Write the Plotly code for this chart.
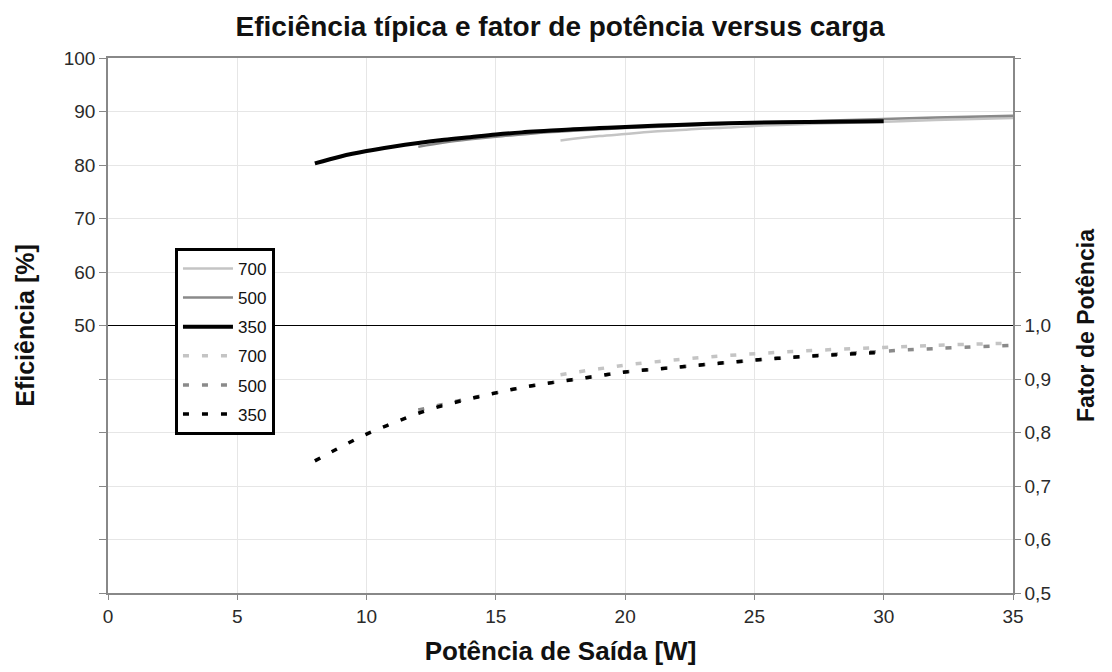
import plotly.graph_objects as go

# Efficiency curves [%]
x_350 = [8, 9, 10, 11, 12, 13, 14, 15, 16, 17, 18, 19, 20, 22, 24, 26, 28, 30]
eff_350 = [80.3, 81.6, 82.6, 83.4, 84.1, 84.7, 85.2, 85.7, 86.1, 86.4, 86.7, 86.9, 87.1, 87.5, 87.8, 88.0, 88.1, 88.2]

x_500 = [12, 13, 14, 15, 16, 17, 18, 20, 22, 24, 26, 28, 30, 32, 35]
eff_500 = [83.4, 84.2, 84.8, 85.3, 85.7, 86.1, 86.4, 86.9, 87.3, 87.7, 88.0, 88.3, 88.6, 88.9, 89.2]

x_700 = [17.5, 18, 19, 20, 21, 22, 23, 24, 25, 26, 28, 30, 32, 35]
eff_700 = [84.6, 84.9, 85.4, 85.8, 86.2, 86.5, 86.8, 87.0, 87.3, 87.5, 87.8, 88.1, 88.4, 88.8]

# Power factor curves
pf_x_350 = [8, 9, 10, 11, 12, 13, 14, 15, 16, 17, 18, 19, 20, 22, 24, 26, 28, 30]
pf_350 = [0.747, 0.773, 0.797, 0.817, 0.836, 0.851, 0.863, 0.874, 0.884, 0.892, 0.899, 0.906, 0.913, 0.922, 0.931, 0.939, 0.945, 0.950]

pf_x_500 = [12, 13, 14, 15, 16, 17, 18, 19, 20, 22, 24, 26, 28, 30, 32, 35]
pf_500 = [0.842, 0.853, 0.864, 0.874, 0.884, 0.892, 0.899, 0.906, 0.913, 0.922, 0.931, 0.939, 0.946, 0.952, 0.957, 0.963]

pf_x_700 = [17.5, 18, 19, 20, 22, 24, 26, 28, 30, 32, 35]
pf_700 = [0.908, 0.912, 0.919, 0.926, 0.936, 0.944, 0.950, 0.955, 0.959, 0.963, 0.967]

# Separator line between the two scales (efficiency 50 % / PF 1,0)
sep_x = [0, 35]
sep_y = [50, 50]

left_ticks = [0, 10, 20, 30, 40, 50, 60, 70, 80, 90, 100]
left_labels = ["", "", "", "", "", "50", "60", "70", "80", "90", "100"]
right_ticks = [0.5, 0.6, 0.7, 0.8, 0.9, 1.0, 1.1, 1.2, 1.3, 1.4, 1.5]
right_labels = ["0,5", "0,6", "0,7", "0,8", "0,9", "1,0", "", "", "", "", ""]
x_ticks = [0, 5, 10, 15, 20, 25, 30, 35]

c700 = "#c4c4c4"
c500 = "#8a8a8a"
c350 = "#000000"
dash = "6px,13px"

fig = go.Figure()
fig.add_trace(go.Scatter(x=sep_x, y=sep_y, mode="lines", showlegend=False,
                         hoverinfo="skip", line=dict(color="black", width=1.2)))
fig.add_trace(go.Scatter(x=x_700, y=eff_700, mode="lines", name="700", legendgroup="a",
                         line=dict(color=c700, width=2.5), line_shape="spline"))
fig.add_trace(go.Scatter(x=x_500, y=eff_500, mode="lines", name="500", legendgroup="b",
                         line=dict(color=c500, width=2.5), line_shape="spline"))
fig.add_trace(go.Scatter(x=x_350, y=eff_350, mode="lines", name="350", legendgroup="c",
                         line=dict(color=c350, width=4), line_shape="spline"))
fig.add_trace(go.Scatter(x=pf_x_700, y=pf_700, mode="lines", name="700", yaxis="y2",
                         legendgroup="d",
                         line=dict(color=c700, width=3.5, dash=dash), line_shape="spline"))
fig.add_trace(go.Scatter(x=pf_x_500, y=pf_500, mode="lines", name="500", yaxis="y2",
                         legendgroup="e",
                         line=dict(color=c500, width=3.5, dash=dash), line_shape="spline"))
fig.add_trace(go.Scatter(x=pf_x_350, y=pf_350, mode="lines", name="350", yaxis="y2",
                         legendgroup="f",
                         line=dict(color=c350, width=3.5, dash=dash), line_shape="spline"))

font = "Liberation Sans, Arial, sans-serif"

fig.update_layout(
    width=1104, height=664,
    paper_bgcolor="white", plot_bgcolor="white",
    margin=dict(l=100, r=99, t=50, b=79),
    font=dict(family=font, size=19, color="#2a2a2a"),
    title=dict(text="<b>Eficiência típica e fator de potência versus carga</b>",
               x=0.5, xanchor="center", y=0.972, yanchor="middle",
               font=dict(size=28, color="#111")),
    showlegend=True,
    legend=dict(x=0.074, y=0.645, xanchor="left", yanchor="top",
                bordercolor="black", borderwidth=3, bgcolor="white",
                font=dict(size=17, color="#111"), itemwidth=50,
                traceorder="grouped", tracegroupgap=4),
    xaxis=dict(range=[0, 35], tickvals=x_ticks, showgrid=True, gridcolor="#e6e6e6",
               gridwidth=1, showline=True, linecolor="#888", linewidth=1.5,
               mirror=True, ticks="outside", ticklen=5, tickcolor="#888",
               zeroline=False,
               title=dict(text="<b>Potência de Saída [W]</b>", font=dict(size=26, color="#111"),
                          standoff=16)),
    yaxis=dict(range=[0, 100], tickvals=left_ticks, ticktext=left_labels,
               showgrid=True, gridcolor="#e6e6e6", gridwidth=1,
               showline=True, linecolor="#888", linewidth=1.5,
               ticks="outside", ticklen=7, tickcolor="#888", zeroline=False,
               title=dict(text="<b>Eficiência [%]</b>", font=dict(size=25, color="#111"),
                          standoff=22)),
    yaxis2=dict(range=[0.5, 1.5], overlaying="y", side="right",
                tickvals=right_ticks, ticktext=right_labels, showgrid=False,
                showline=True, linecolor="#888", linewidth=1.5,
                ticks="outside", ticklen=6, tickcolor="#888", zeroline=False,
                title=dict(text="<b>Fator de Potência</b>", font=dict(size=23, color="#111"),
                           standoff=28)),
)

fig.write_html("out.html")
